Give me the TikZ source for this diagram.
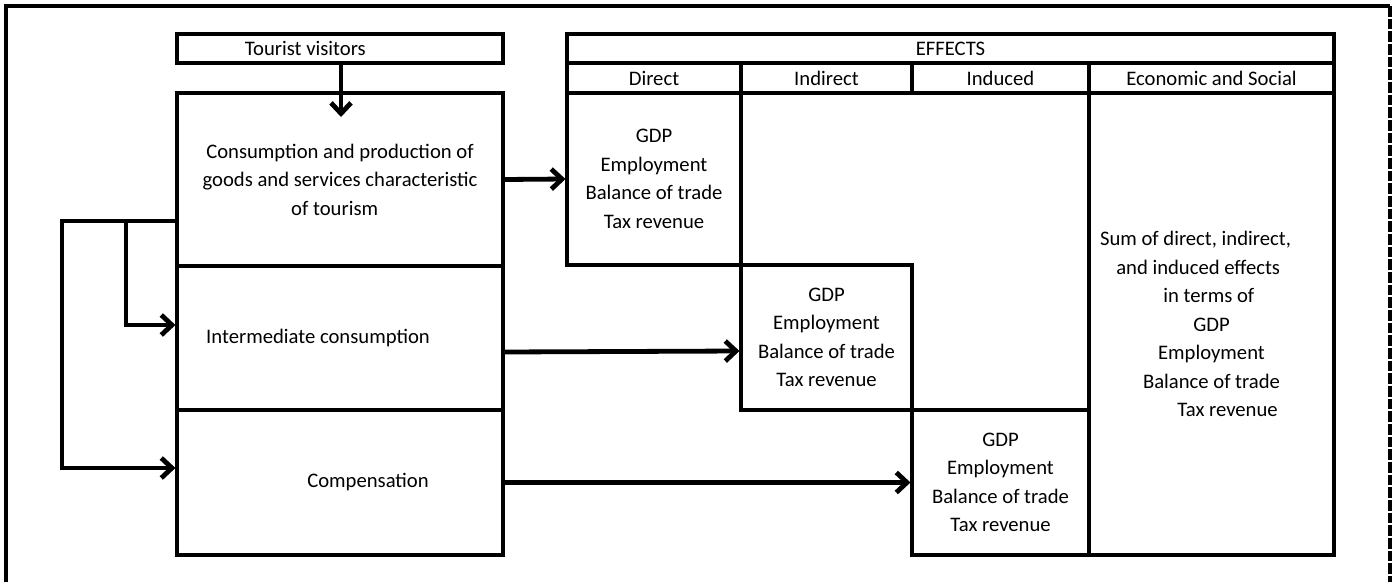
\documentclass[tikz,border=0pt]{standalone}
\usepackage{fontspec}
\setmainfont{Carlito}
\usepackage{tikz}
\usetikzlibrary{arrows.meta, positioning, calc}
\tikzset{
  cell/.style={rectangle, draw=black, line width=2.3pt, inner sep=0pt,
    align=center},
  arrow/.style={-{Straight Barb[length=8pt, width=15pt]}, line width=3.6pt},
  line/.style={line width=3.6pt}
}

\begin{document}
\begin{tikzpicture}[x=0.75pt, y=-0.75pt,
  font=\fontsize{15.5pt}{21.4pt}\selectfont]
  \useasboundingbox (0,0) rectangle (1393,582);
  % outer frame
  \draw[line width=3pt] (6,582) -- (6,6) -- (1390,6);
  \draw[line width=3pt, dash pattern=on 8pt off 1.5pt] (1390,6) -- (1390,582);
  % left column
  \node[cell, minimum width=244.5pt, minimum height=21.75pt] (tour) at (340,48.5)
    {Tourist visitors\hspace*{52pt}};
  \node[cell, minimum width=244.5pt, minimum height=129.75pt] (cons) at (340,179.5)
    {Consumption and production of\\goods and services characteristic\\of tourism\hspace*{8pt}\mbox{}};
  \node[cell, minimum width=244.5pt, minimum height=108pt] (inter) at (340,338)
    {Intermediate consumption\hspace*{33pt}};
  \node[cell, minimum width=244.5pt, minimum height=108.75pt] (comp) at (340,482.5)
    {\hspace*{42pt}Compensation};
  % effects table
  \node[cell, minimum width=575.25pt, minimum height=21.75pt] (eff) at (950.5,48.5) {EFFECTS};
  \node[cell, minimum width=130.5pt, minimum height=22.5pt] (hdir) at (654,78) {Direct};
  \node[cell, minimum width=128.25pt, minimum height=22.5pt] (hind) at (826.5,78) {Indirect};
  \node[cell, minimum width=132.75pt, minimum height=22.5pt] (hinu) at (1000.5,78) {Induced};
  \node[cell, minimum width=183.75pt, minimum height=22.5pt] (hecon) at (1211.5,78) {Economic and Social};
  \node[cell, minimum width=130.5pt, minimum height=129pt] (dir) at (654,179)
    {GDP\\Employment\\Balance of trade\\Tax revenue};
  \node[cell, minimum width=128.25pt, minimum height=108.75pt] (ind) at (826.5,337.5)
    {GDP\\Employment\\Balance of trade\\Tax revenue};
  \node[cell, minimum width=132.75pt, minimum height=108.75pt] (inu) at (1000.5,482.5)
    {GDP\\Employment\\Balance of trade\\Tax revenue};
  \node[cell, minimum width=183.75pt, minimum height=346.5pt] (econ) at (1211.5,324)
    {Sum of direct, indirect,\hspace*{24pt}\mbox{}\\and induced effects\hspace*{20pt}\mbox{}\\in terms of\hspace*{4pt}\mbox{}\\GDP\\Employment\\Balance of trade\\\hspace*{24pt}Tax revenue};
  % connectors
  \coordinate (tip) at (341,117);
  \coordinate (jl) at (62,221);
  \coordinate (jr) at (126,221);
  \draw[arrow] (tour.south -| tip) -- (tip);
  \draw[arrow] (cons.east) -- (dir.west);
  \draw[arrow] (inter.east |- 0,352) -- (ind.west |- 0,351);
  \draw[arrow] (comp.east) -- (inu.west);
  \draw[arrow] (cons.west |- jl) -- (jl) |- (comp.west |- 0,468);
  \draw[arrow] (jr) |- (inter.west |- 0,325);
\end{tikzpicture}
\end{document}
